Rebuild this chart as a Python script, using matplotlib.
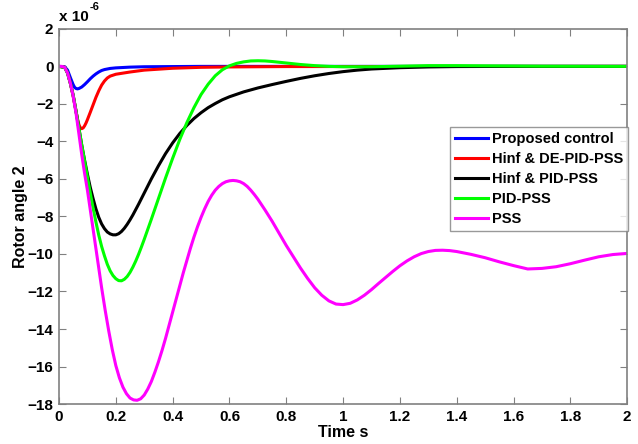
import matplotlib
matplotlib.use("Agg")
import matplotlib.pyplot as plt

plt.rcParams['font.family'] = ['Liberation Sans', 'DejaVu Sans']
plt.rcParams['font.weight'] = 'bold'

# values in units of 1e-6
t_blue = [0, 0.02, 0.03, 0.04, 0.05, 0.055, 0.06, 0.065, 0.07, 0.08, 0.09, 0.1, 0.11,
          0.12, 0.13, 0.14, 0.15, 0.16, 0.18, 0.2, 0.25, 0.3, 0.5, 2.0]
proposed = [0, -0.02, -0.2, -0.6, -0.98, -1.12, -1.18, -1.2, -1.18, -1.1, -0.97, -0.82,
            -0.66, -0.52, -0.4, -0.3, -0.22, -0.17, -0.11, -0.08, -0.04, -0.02, 0, 0]

t_red = [0, 0.02, 0.03, 0.04, 0.05, 0.06, 0.065, 0.07, 0.075, 0.08, 0.085, 0.09, 0.095,
         0.1, 0.11, 0.12, 0.13, 0.14, 0.15, 0.16, 0.17, 0.18, 0.2, 0.25, 0.3, 0.4, 0.5,
         0.6, 0.8, 2.0]
hinf_de = [0, -0.05, -0.35, -0.9, -1.6, -2.4, -2.8, -3.1, -3.27, -3.32, -3.28, -3.17,
           -3.02, -2.84, -2.45, -2.05, -1.65, -1.3, -1.0, -0.78, -0.62, -0.52, -0.42,
           -0.3, -0.2, -0.1, -0.05, -0.03, -0.01, 0]

t_black = [0, 0.02, 0.03, 0.04, 0.05, 0.06, 0.07, 0.08, 0.09, 0.1, 0.11, 0.12, 0.13,
           0.14, 0.15, 0.16, 0.17, 0.18, 0.19, 0.2, 0.21, 0.22, 0.23, 0.24, 0.25, 0.26,
           0.28, 0.3, 0.325, 0.35, 0.375, 0.4, 0.425, 0.45, 0.475, 0.5, 0.525, 0.55,
           0.575, 0.6, 0.65, 0.7, 0.75, 0.8, 0.85, 0.9, 0.95, 1.0, 1.05, 1.1, 1.2, 1.3,
           1.4, 1.6, 2.0]
hinf_pid = [0, -0.05, -0.35, -0.9, -1.55, -2.4, -3.3, -4.2, -5.0, -5.75, -6.45, -7.05,
            -7.6, -8.05, -8.4, -8.65, -8.83, -8.93, -8.98, -8.98, -8.92, -8.8, -8.63,
            -8.42, -8.18, -7.92, -7.35, -6.75, -6.0, -5.3, -4.65, -4.08, -3.58, -3.15,
            -2.78, -2.47, -2.2, -1.98, -1.78, -1.62, -1.36, -1.15, -0.97, -0.8, -0.64,
            -0.5, -0.38, -0.28, -0.2, -0.14, -0.07, -0.03, -0.01, 0, 0]

t_green = [0, 0.02, 0.03, 0.04, 0.05, 0.06, 0.07, 0.08, 0.09, 0.1, 0.11, 0.12, 0.13,
           0.14, 0.15, 0.16, 0.17, 0.18, 0.19, 0.2, 0.21, 0.22, 0.23, 0.24, 0.25, 0.26,
           0.27, 0.28, 0.29, 0.3, 0.325, 0.35, 0.375, 0.4, 0.425, 0.45, 0.475, 0.5,
           0.525, 0.55, 0.575, 0.6, 0.625, 0.65, 0.675, 0.7, 0.725, 0.75, 0.8, 0.85,
           0.9, 0.95, 1.0, 1.1, 1.2, 1.3, 1.4, 1.5, 1.7, 2.0]
pid_pss = [0, -0.05, -0.35, -0.9, -1.55, -2.4, -3.3, -4.2, -5.05, -5.9, -6.75, -7.55,
           -8.3, -9.0, -9.6, -10.1, -10.55, -10.9, -11.15, -11.32, -11.42, -11.43,
           -11.35, -11.2, -10.98, -10.7, -10.38, -10.02, -9.63, -9.22, -8.15, -7.05,
           -5.95, -4.9, -3.9, -3.0, -2.2, -1.5, -0.95, -0.5, -0.18, 0.03, 0.16, 0.24,
           0.29, 0.3, 0.29, 0.26, 0.18, 0.1, 0.04, 0.0, -0.02, -0.02, 0.01, 0.04, 0.04,
           0.03, 0.01, 0]

t_mag = [0, 0.01, 0.02, 0.03, 0.04, 0.05, 0.06, 0.07, 0.08, 0.09, 0.1, 0.1125, 0.125,
         0.1375, 0.15, 0.1625, 0.175, 0.1875, 0.2, 0.2125, 0.225, 0.2375, 0.25, 0.2625,
         0.275, 0.2875, 0.3, 0.3125, 0.325, 0.3375, 0.35, 0.3625, 0.375, 0.3875, 0.4,
         0.4125, 0.425, 0.4375, 0.45, 0.4625, 0.475, 0.4875, 0.5, 0.5125, 0.525, 0.5375,
         0.55, 0.5625, 0.575, 0.5875, 0.6, 0.6125, 0.625, 0.6375, 0.65, 0.6625, 0.675,
         0.6875, 0.7, 0.725, 0.75, 0.775, 0.8, 0.825, 0.85, 0.875, 0.9, 0.925, 0.95,
         0.975, 1.0, 1.025, 1.05, 1.075, 1.1, 1.125, 1.15, 1.175, 1.2, 1.225, 1.25,
         1.275, 1.3, 1.325, 1.35, 1.375, 1.4, 1.45, 1.5, 1.55, 1.6, 1.65, 1.7, 1.75,
         1.8, 1.85, 1.9, 1.95, 2.0]
pss = [0, 0, -0.05, -0.35, -0.9, -1.6, -2.5, -3.6, -4.7, -5.7, -6.6, -7.9, -9.2, -10.5,
       -11.8, -13.0, -14.1, -15.1, -15.95, -16.6, -17.1, -17.45, -17.68, -17.78, -17.8,
       -17.72, -17.52, -17.2, -16.8, -16.3, -15.75, -15.15, -14.5, -13.8, -13.1, -12.4,
       -11.7, -11.0, -10.35, -9.7, -9.1, -8.55, -8.05, -7.6, -7.2, -6.87, -6.6, -6.4,
       -6.25, -6.15, -6.1, -6.08, -6.1, -6.15, -6.25, -6.4, -6.6, -6.83, -7.08, -7.65,
       -8.25, -8.9, -9.55, -10.15, -10.75, -11.3, -11.8, -12.2, -12.5, -12.67, -12.7,
       -12.63, -12.45, -12.2, -11.9, -11.57, -11.25, -10.93, -10.63, -10.37, -10.15,
       -9.98, -9.87, -9.81, -9.8, -9.82, -9.87, -10.02, -10.2, -10.42, -10.62, -10.8,
       -10.77, -10.68, -10.52, -10.33, -10.15, -10.03, -9.97]

fig = plt.figure(figsize=(6.38, 4.44), dpi=100)
ax = fig.add_axes([0.0925, 0.09, 0.8905, 0.845])

lw = 2.2
ax.plot(t_blue, proposed, color='#0000FF', lw=lw, label='Proposed control')
ax.plot(t_red, hinf_de, color='#FF0000', lw=lw, label='Hinf & DE-PID-PSS')
ax.plot(t_black, hinf_pid, color='black', lw=lw, label='Hinf & PID-PSS')
ax.plot(t_green, pid_pss, color='#00FF00', lw=lw, label='PID-PSS')
ax.plot(t_mag, pss, color='#FF00FF', lw=lw, label='PSS')

ax.set_xlim(0, 2)
ax.set_ylim(-18, 2)
ax.set_xticks([0, 0.2, 0.4, 0.6, 0.8, 1, 1.2, 1.4, 1.6, 1.8, 2])
ax.set_xticklabels(['0', '0.2', '0.4', '0.6', '0.8', '1', '1.2', '1.4', '1.6', '1.8', '2'])
ax.set_yticks(range(-18, 3, 2))
ax.tick_params(direction='in', top=True, right=True, labelsize=11, length=5,
               color='#808080', pad=4)
for s in ax.spines.values():
    s.set_color('#808080')
    s.set_linewidth(1.2)

ax.set_xlabel('Time s', fontsize=11.5, fontweight='bold', labelpad=1)
ax.set_ylabel('Rotor angle 2', fontsize=11.5, fontweight='bold')
ax.yaxis.set_label_coords(-0.055, 0.5)

ax.text(0.0, 1.012, 'x 10', transform=ax.transAxes, fontsize=11, fontweight='bold',
        ha='left', va='bottom')
ax.text(0.053, 1.045, '-6', transform=ax.transAxes, fontsize=8, fontweight='bold',
        ha='left', va='bottom')

leg = ax.legend(loc='upper right', bbox_to_anchor=(1.002, 0.739), fontsize=10.5,
                frameon=True, fancybox=False, handlelength=2.2, handletextpad=0.3,
                borderpad=0.35, labelspacing=0.42, borderaxespad=0)
leg.get_frame().set_edgecolor('#808080')
leg.get_frame().set_linewidth(1.0)
for txt in leg.get_texts():
    txt.set_fontweight('bold')

fig.savefig('out.png', dpi=100)
